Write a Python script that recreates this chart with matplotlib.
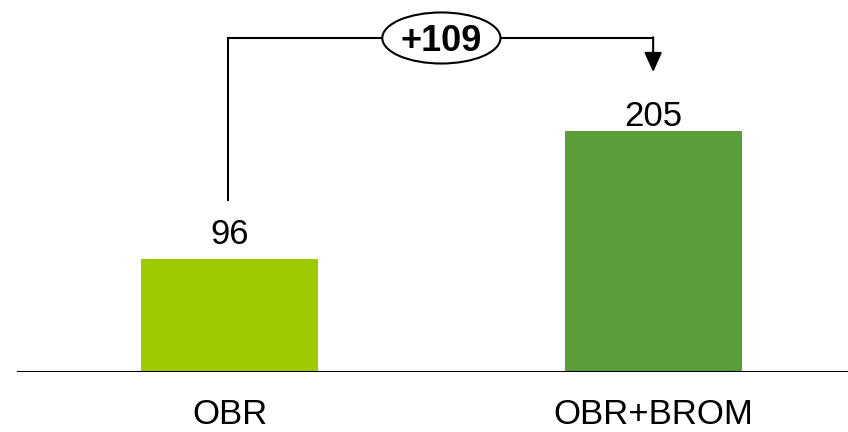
import matplotlib.pyplot as plt
from matplotlib.patches import Ellipse

plt.rcParams['font.family'] = ['Liberation Sans', 'DejaVu Sans']

# ===== DATA =====
categories = ["OBR", "OBR+BROM"]
values     = [96, 205]
colors     = ["#9ECB00", "#5A9E3A"]
delta_txt  = "+109"

# ===== FIGURE =====
fig = plt.figure(figsize=(8.48, 4.32), dpi=100)
# axes spans from the baseline (60 px from bottom) up to the top edge
ax = fig.add_axes([0, 60 / 432, 1, 372 / 432])

x = list(range(len(categories)))
ax.bar(x, values, width=0.418, color=colors, zorder=2)

ax.set_xlim(-0.542, 1.460)
ax.set_ylim(0, 316.3)
ax.axis("off")

# baseline
ax.axhline(0, xmin=18 / 848, xmax=1, color="black", lw=1.5, zorder=3)

# value labels above bars
label_pad = [10.8, 3.6]
for xi, v, pad in zip(x, values, label_pad):
    ax.annotate(f"{v}", xy=(xi, v), xytext=(0, pad), textcoords="offset points",
                ha="center", va="baseline", fontsize=25)

# category labels below baseline
for xi, c in zip(x, categories):
    ax.annotate(c, xy=(xi, 0), xytext=(0, -37.6), textcoords="offset points",
                ha="center", va="baseline", fontsize=25)

# difference bracket
y_top = 284
ax.plot([x[0] - 0.004, x[0] - 0.004, x[1]], [146, y_top, y_top],
        color="black", lw=1.5, solid_joinstyle="miter", zorder=3)
ax.annotate("", xy=(x[1], 255), xytext=(x[1], y_top + 0.6),
            arrowprops=dict(arrowstyle="-|>,head_length=1.2,head_width=0.54",
                            color="black", lw=1.5, shrinkA=0, shrinkB=0))

ell = Ellipse((0.5, y_top), width=0.279, height=43.4, facecolor="white",
              edgecolor="black", lw=1.5, zorder=4)
ax.add_patch(ell)
ax.text(0.5, y_top, delta_txt, ha="center", va="center_baseline",
        fontsize=26, fontweight="bold", zorder=5)

fig.savefig("out.png", dpi=100)
